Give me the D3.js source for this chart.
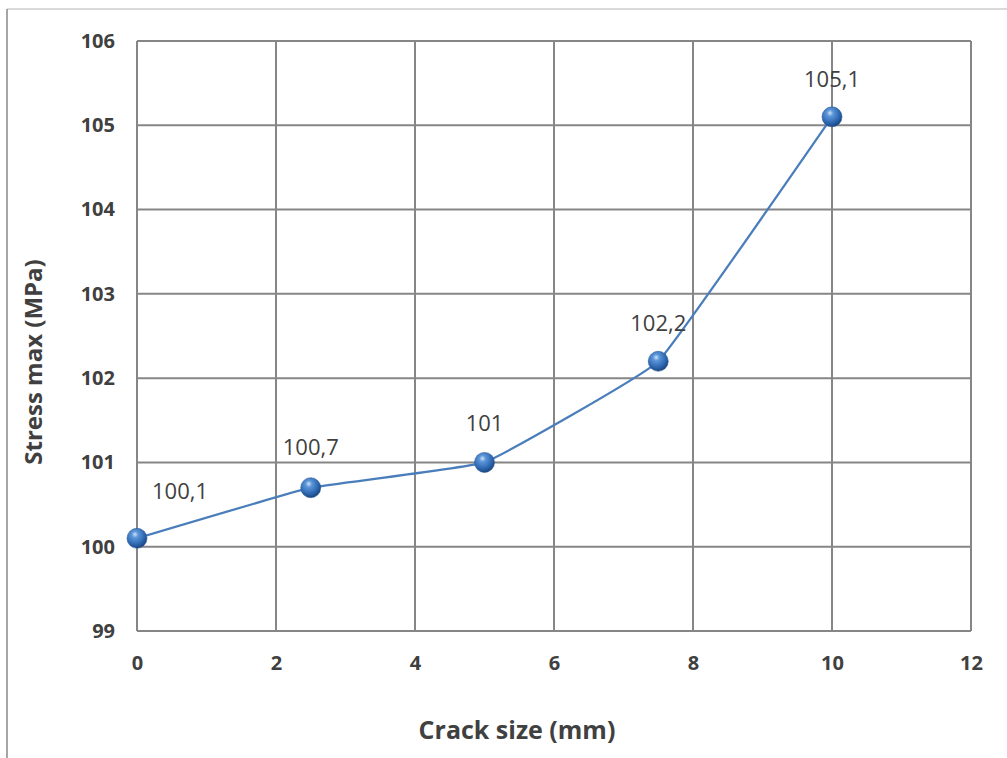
<!DOCTYPE html>
<html>
<head>
<meta charset="utf-8">
<script src="https://cdn.jsdelivr.net/npm/d3@7"></script>
<style>
  html, body { margin: 0; padding: 0; background: #fff; }
  svg { display: block; }
</style>
</head>
<body>
<svg id="chart" width="1007" height="758"></svg>
<script>
// Crack size (mm) vs maximum stress (MPa)
const crackSize = [0, 2.5, 5, 7.5, 10];
const stressMax = [100.1, 100.7, 101, 102.2, 105.1];
const valueLabels = ["100,1", "100,7", "101", "102,2", "105,1"];
const xTicks = [0, 2, 4, 6, 8, 10, 12];
const yTicks = [99, 100, 101, 102, 103, 104, 105, 106];

const svg = d3.select("#chart");
const W = 1007, H = 758;
const plot = { left: 137, right: 971, top: 41, bottom: 631 };
const font = "'Open Sans', 'Liberation Sans', sans-serif";

// frame lines
svg.append("line").attr("x1", 7).attr("x2", W).attr("y1", 9).attr("y2", 9)
  .attr("stroke", "#d9d9d9").attr("stroke-width", 2);
svg.append("line").attr("x1", 7).attr("x2", 7).attr("y1", 9).attr("y2", H)
  .attr("stroke", "#a6a6a6").attr("stroke-width", 2);

const x = d3.scaleLinear().domain([0, 12]).range([plot.left, plot.right]);
const y = d3.scaleLinear().domain([99, 106]).range([plot.bottom, plot.top]);

// gridlines
const grid = svg.append("g").attr("stroke", "#868686").attr("stroke-width", 2);
grid.selectAll("line.v").data(xTicks).join("line").attr("class", "v")
  .attr("x1", d => x(d)).attr("x2", d => x(d))
  .attr("y1", plot.top).attr("y2", plot.bottom);
grid.selectAll("line.h").data(yTicks).join("line").attr("class", "h")
  .attr("x1", plot.left).attr("x2", plot.right)
  .attr("y1", d => y(d)).attr("y2", d => y(d));

// axes (labels only)
const xAxis = svg.append("g").attr("transform", `translate(0,${plot.bottom + 32})`)
  .call(d3.axisBottom(x).tickValues(xTicks).tickSize(0).tickPadding(0).tickFormat(d3.format("d")));
xAxis.select(".domain").remove();
xAxis.selectAll("text").attr("font-family", font).attr("font-size", 20)
  .attr("font-weight", "bold").attr("fill", "#404040").attr("dy", "0.35em");

const yAxis = svg.append("g").attr("transform", `translate(${plot.left - 22},0)`)
  .call(d3.axisLeft(y).tickValues(yTicks).tickSize(0).tickPadding(0).tickFormat(d3.format("d")));
yAxis.select(".domain").remove();
yAxis.selectAll("text").attr("font-family", font).attr("font-size", 20)
  .attr("font-weight", "bold").attr("fill", "#404040");

// axis titles
svg.append("text").attr("x", 517).attr("y", 730).attr("dy", "0.35em")
  .attr("text-anchor", "middle").attr("font-family", font).attr("font-size", 25)
  .attr("font-weight", "bold").attr("fill", "#404040").text("Crack size (mm)");
svg.append("text").attr("transform", "translate(34,362) rotate(-90)").attr("dy", "0.35em")
  .attr("text-anchor", "middle").attr("font-family", font).attr("font-size", 24)
  .attr("font-weight", "bold").attr("fill", "#404040").text("Stress max (MPa)");

// series
const pts = crackSize.map((c, i) => ({ c, s: stressMax[i], label: valueLabels[i] }));
const line = d3.line().x(d => x(d.c)).y(d => y(d.s)).curve(d3.curveCardinal.tension(0.75));
svg.append("path").datum(pts).attr("d", line).attr("fill", "none")
  .attr("stroke", "#4a7ebb").attr("stroke-width", 2.25);

// glossy markers
const defs = svg.append("defs");
const grad = defs.append("radialGradient").attr("id", "ball")
  .attr("cx", "40%").attr("cy", "35%").attr("r", "65%").attr("fx", "40%").attr("fy", "30%");
grad.append("stop").attr("offset", "0%").attr("stop-color", "#cfe2f8");
grad.append("stop").attr("offset", "25%").attr("stop-color", "#5b96d9");
grad.append("stop").attr("offset", "75%").attr("stop-color", "#2b64ad");
grad.append("stop").attr("offset", "100%").attr("stop-color", "#1c4680");

svg.selectAll("circle.pt").data(pts).join("circle").attr("class", "pt")
  .attr("cx", d => x(d.c)).attr("cy", d => y(d.s)).attr("r", 10)
  .attr("fill", "url(#ball)").attr("stroke", "#2a5a9a").attr("stroke-width", 0.6);

// value labels
const labelOffsets = [[43, -47], [0, -40], [0, -39], [0, -38], [0, -38]];
svg.selectAll("text.val").data(pts).join("text").attr("class", "val")
  .attr("x", (d, i) => x(d.c) + labelOffsets[i][0])
  .attr("y", (d, i) => y(d.s) + labelOffsets[i][1])
  .attr("dy", "0.35em").attr("text-anchor", "middle")
  .attr("font-family", font).attr("font-size", 22).attr("fill", "#404040")
  .text(d => d.label);
</script>
</body>
</html>
